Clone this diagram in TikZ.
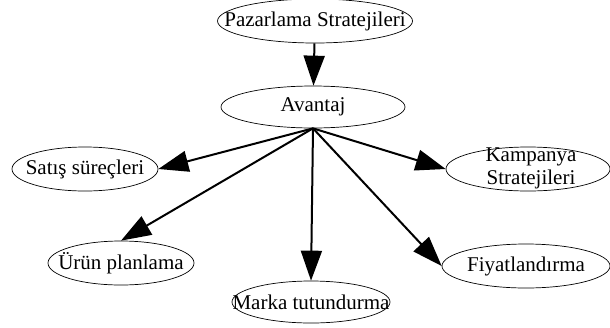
\documentclass[tikz,border=0pt]{standalone}
\usepackage{fontspec}
\setmainfont{Liberation Serif}
\usetikzlibrary{shapes.geometric, arrows.meta}
\newcommand{\nowide}[1]{\makebox[0pt]{#1}}

\begin{document}
\begin{tikzpicture}[x=1pt, y=-1pt, line width=2pt, >={Triangle[length=30pt, width=21pt]},
        ell/.style={draw, ellipse, line width=0.7pt, inner sep=0pt, minimum height=44pt,
            font=\fontsize{21}{23}\selectfont}]
        \useasboundingbox (0,0) rectangle (610,327);

        \node[ell, minimum width=195pt] (pazar) at (315,21) {\nowide{Pazarlama Stratejileri}};
        \node[ell, minimum width=184pt, minimum height=42pt] (avantaj) at (313,107) {\nowide{Avantaj}};

        \node[ell, minimum width=146pt] (satis) at (85,169) {\nowide{Satış süreçleri}};
        \node[ell, minimum width=146pt] (urun) at (121,263) {\nowide{Ürün planlama}};
        \node[ell, minimum width=158pt, minimum height=42pt] (marka) at (311,302) {\nowide{Marka tutundurma}};
        \node[ell, minimum width=164pt, text height=10pt, text depth=0pt] (kampanya) at (528,169) {
            \nowide{\hspace*{6pt}\begin{tabular}{@{}c@{}}
            Kampanya \\
            Stratejileri
            \end{tabular}}
        };
        \node[ell, minimum width=168pt] (fiyat) at (526,266) {\nowide{Fiyatlandırma}};

        \draw[->] (pazar) -- (avantaj);
        \draw[->] (avantaj.south) -- (satis.east);
        \draw[->] (avantaj.south) -- (urun.north);
        \draw[->] (avantaj.south) -- (marka.north);
        \draw[->] (avantaj.south) -- (kampanya.west);
        \draw[->] (avantaj.south) -- (fiyat.west);
    \end{tikzpicture}
\end{document}
